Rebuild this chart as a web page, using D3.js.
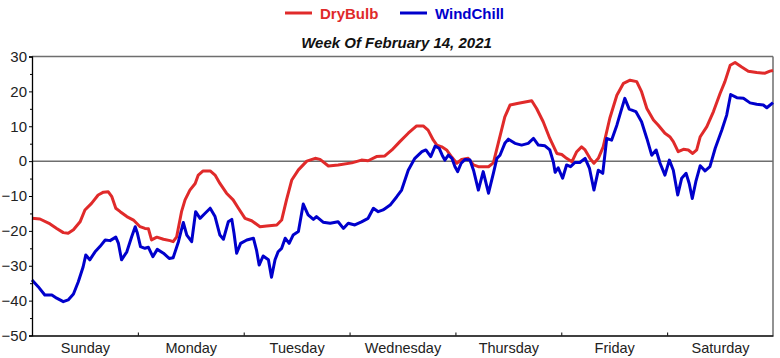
<!DOCTYPE html>
<html>
<head>
<meta charset="utf-8">
<script src="https://cdn.jsdelivr.net/npm/d3@7"></script>
<style>
  body { margin: 0; background: #fff; }
  svg { display: block; font-family: "Liberation Sans", Arial, sans-serif; }
</style>
</head>
<body>
<svg id="chart" width="780" height="358"></svg>
<script>
/**
 * Data: hours since Sunday 00:00.
 */
const days = ['Sunday', 'Monday', 'Tuesday', 'Wednesday', 'Thursday', 'Friday', 'Saturday'];
const yTicks = [-50, -40, -30, -20, -10, 0, 10, 20, 30];
const seriesNames = ['DryBulb', 'WindChill'];

const dryHours = [0, 1.8, 4.1, 5.6, 7.1, 8.2, 9.4, 10.9, 12.0, 13.5, 15.0, 16.2, 17.3, 18.1, 19.0, 20.0,
    21.5, 23.0, 24.5, 25.6, 26.4, 27.1, 28.3, 29.8, 31.3, 32.0, 32.8, 33.9, 34.7, 35.8, 37.0, 37.7,
    38.8, 40.4, 41.5, 42.6, 44.1, 45.6, 46.8, 48.3, 49.8, 51.7, 53.2, 55.5, 56.6, 57.7, 58.9, 60.4,
    62.3, 64.2, 65.3, 67.2, 69.4, 72.5, 74.7, 76.2, 78.1, 80.0, 81.6, 83.4, 85.3, 87.2, 88.7, 89.8,
    91.0, 91.8, 92.9, 94.0, 95.2, 96.3, 97.4, 98.9, 100.1, 101.2, 103.5, 104.6, 105.7, 107.2, 108.4,
    110.3, 113.3, 114.4, 115.9, 117.4, 119.0, 120.1, 121.2, 122.4, 123.5, 124.6, 125.4, 126.5, 127.4,
    128.4, 129.5, 131.0, 132.6, 134.1, 135.6, 137.1, 138.2, 139.4, 140.9, 142.0, 143.5, 144.6, 145.4,
    146.5, 147.7, 148.8, 149.8, 150.7, 151.5, 153.0, 154.5, 156.0, 157.1, 158.3, 159.4, 160.9, 162.4,
    164.3, 166.2, 167.3, 168];
const dryBulb = [-16.4, -16.6, -18.0, -19.3, -20.5, -20.7, -19.7, -17.4, -14.0, -12.1, -9.7, -8.9, -8.8, -10.2, -13.5, -14.5,
    -15.9, -16.9, -18.8, -19.3, -19.4, -22.6, -21.8, -22.4, -22.8, -23.1, -21.7, -14.5, -11.1, -8.3, -6.4, -4.0,
    -2.8, -2.8, -4.0, -6.4, -9.2, -11.1, -13.5, -16.4, -17.1, -18.8, -18.6, -18.3, -16.9, -11.1, -5.4, -2.5,
    0, 0.8, 0.5, -1.4, -1.1, -0.5, 0.3, 0.1, 1.3, 1.5, 3.2, 5.6, 8.0, 10.1, 10.1, 8.9,
    6.0, 4.6, 4.1, 3.2, 1.1, -0.6, 0.5, 0.8, -1.1, -1.6, -1.6, -0.5, 5.1, 12.7, 16.1,
    16.6, 17.3, 15.1, 11.3, 6.5, 2.2, 1.9, 0.8, -0.2, 2.7, 4.1, 3.2, 0.8, -0.6,
    0.8, 4.1, 12.3, 18.9, 22.3, 23.2, 22.8, 19.9, 15.1, 11.8, 10.3, 8.0, 7.0, 5.6,
    2.7, 3.4, 3.2, 2.2, 3.2, 7.0, 9.9, 14.2, 19.4, 22.8, 27.5, 28.3, 27.0, 25.8,
    25.4, 25.2, 25.8, 26.0];

const chillHours = [0, 1.4, 2.9, 4.5, 5.6, 7.1, 8.2, 9.4, 10.5, 11.6, 12.2, 13.1, 14.3, 15.4, 16.6, 17.7,
    19.0, 19.6, 20.3, 21.5, 22.6, 23.4, 23.9, 24.6, 25.6, 26.4, 27.4, 28.4, 29.8, 31.1, 32.0, 33.2,
    34.3, 35.1, 36.2, 37.1, 38.1, 39.2, 40.4, 41.5, 42.6, 43.4, 44.5, 45.3, 45.8, 46.4, 47.3, 48.7,
    50.2, 50.9, 51.5, 52.4, 53.6, 54.3, 55.1, 55.8, 56.6, 57.4, 58.3, 59.2, 60.4, 61.5, 62.6, 63.8,
    64.5, 66.0, 67.6, 69.4, 70.6, 71.7, 73.2, 74.7, 76.2, 77.4, 78.5, 79.6, 81.2, 82.7, 83.8, 85.3,
    86.8, 88.4, 89.3, 90.4, 91.4, 92.3, 93.0, 93.6, 94.4, 95.2, 95.9, 96.5, 97.3, 98.2, 99.3, 100.1,
    101.2, 102.3, 103.5, 104.6, 105.4, 106.1, 107.2, 108.0, 109.5, 111.0, 112.5, 113.7, 114.8, 116.3,
    117.4, 118.2, 118.6, 119.3, 120.3, 121.2, 122.1, 123.1, 124.2, 125.4, 126.4, 127.4, 128.4, 129.4,
    130.3, 131.4, 132.6, 133.5, 134.4, 135.4, 136.9, 138.2, 139.4, 140.5, 141.5, 142.4, 143.5, 144.5,
    145.4, 146.4, 147.3, 148.3, 149.0, 149.7, 150.5, 151.5, 152.6, 153.7, 154.9, 156.4, 157.5, 158.4,
    159.8, 161.3, 162.8, 164.3, 165.8, 166.6, 168];
const windChill = [-34.1, -36.0, -38.4, -38.4, -39.3, -40.3, -39.8, -38.1, -34.6, -30.3, -26.9, -28.3, -26.0, -24.5, -22.6, -22.8,
    -21.8, -23.6, -28.3, -26.0, -21.7, -18.8, -20.7, -24.5, -25.0, -24.7, -27.4, -25.3, -26.4, -27.9, -27.7, -23.1,
    -17.6, -21.2, -23.1, -14.5, -16.4, -15.0, -13.5, -15.9, -21.2, -22.4, -17.4, -16.7, -20.7, -26.4, -23.6, -22.6,
    -22.1, -25.5, -29.8, -27.2, -28.3, -33.3, -28.3, -26.0, -25.0, -22.1, -23.6, -21.2, -20.2, -12.3, -15.4, -16.7,
    -15.9, -17.5, -17.8, -17.4, -19.3, -17.8, -18.3, -17.4, -16.4, -13.5, -14.5, -14.0, -12.6, -10.2, -8.3, -2.6,
    0.8, 2.7, 3.2, 1.3, 4.3, 3.7, 1.7, 0.3, 1.7, 0.8, -1.6, -3.0, -0.6, 0.5, 0.3, -2.6,
    -8.3, -3.0, -9.2, -3.5, 0.8, 1.7, 5.1, 6.3, 5.1, 4.6, 5.1, 6.5, 4.6, 4.4,
    3.2, -0.2, -3.2, -1.9, -4.9, -1.1, -1.6, -0.4, -0.4, 0.8, -2.1, -8.3, -2.6, -3.5,
    6.5, 6.0, 10.3, 14.2, 18.0, 14.9, 14.2, 11.3, 6.5, 1.7, 3.2, -0.6, -4.0, 0.3,
    -2.6, -9.7, -4.9, -3.5, -6.4, -10.7, -5.9, -1.3, -2.8, -1.6, 3.7, 8.9, 13.2, 19.1,
    18.2, 18.0, 16.7, 16.3, 16.1, 15.3, 16.8];

/**
 * Visual configs.
 */
const margin = { top: 56.5, right: 7, bottom: 22.5, left: 32 };
const visWidth = 780, visHeight = 358,
    width = visWidth - margin.left - margin.right,
    height = visHeight - margin.top - margin.bottom;
const colors = { DryBulb: '#e02a2a', WindChill: '#0000cc' };
const visTitle = 'Week Of February 14, 2021';

const svg = d3.select('#chart');

const x = d3.scaleLinear().domain([0, 168]).range([0, width]);
const y = d3.scaleLinear().domain([-50, 30]).range([height, 0]);

// Legend
const legend = svg.append('g').attr('class', 'legend');
const legendX = [285, 400];
seriesNames.forEach((name, i) => {
    const g = legend.append('g').attr('transform', 'translate(' + legendX[i] + ',13)');
    g.append('line').attr('x1', 0).attr('x2', 27).attr('y1', 0).attr('y2', 0)
        .attr('stroke', colors[name]).attr('stroke-width', 3);
    g.append('text').attr('x', 35).attr('y', 5.5)
        .attr('font-size', 15).attr('font-weight', 'bold')
        .attr('fill', colors[name]).text(name);
});

// Title
svg.append('text')
    .attr('x', margin.left + width / 2 - 6).attr('y', 48)
    .attr('text-anchor', 'middle')
    .attr('font-size', 15).attr('font-weight', 'bold').attr('font-style', 'italic')
    .attr('fill', '#111')
    .text(visTitle);

const plot = svg.append('g').attr('transform', 'translate(' + margin.left + ',' + margin.top + ')');

// Frame: grey top/right, black left/bottom
plot.append('line').attr('x1', 0).attr('x2', width).attr('y1', 0).attr('y2', 0)
    .attr('stroke', '#6e6e6e').attr('stroke-width', 1.5);
plot.append('line').attr('x1', width).attr('x2', width).attr('y1', 0).attr('y2', height)
    .attr('stroke', '#6e6e6e').attr('stroke-width', 1.5);
plot.append('line').attr('x1', 0).attr('x2', width).attr('y1', y(0)).attr('y2', y(0))
    .attr('stroke', '#6e6e6e').attr('stroke-width', 1.5);

// Lines
const line = d3.line().x(d => x(d[0])).y(d => y(d[1]));
const series = [
    { name: 'DryBulb', values: dryHours.map((h, i) => [h, dryBulb[i]]) },
    { name: 'WindChill', values: chillHours.map((h, i) => [h, windChill[i]]) }
];
plot.selectAll('path.series').data(series).join('path')
    .attr('class', 'series')
    .attr('d', d => line(d.values))
    .attr('fill', 'none')
    .attr('stroke', d => colors[d.name])
    .attr('stroke-width', 3)
    .attr('stroke-linejoin', 'round');

// Y axis
const yAxis = plot.append('g')
    .call(d3.axisLeft(y).tickValues(yTicks).tickSize(3).tickPadding(2));
yAxis.selectAll('text').attr('font-size', 15).attr('fill', '#222').attr('font-family', null);
plot.append('g')
    .call(d3.axisLeft(y).tickValues(d3.range(-45, 30, 10)).tickSize(2).tickFormat(''))
    .select('.domain').remove();

// X axis
const xAxis = plot.append('g').attr('transform', 'translate(0,' + height + ')')
    .call(d3.axisBottom(x).tickValues(d3.range(24, 168, 24)).tickSizeInner(-3).tickSizeOuter(0).tickFormat(''));
plot.append('g').attr('transform', 'translate(0,' + height + ')')
    .call(d3.axisBottom(x).tickValues(days.map((d, i) => 12 + 24 * i)).tickSize(0).tickPadding(7)
        .tickFormat((d, i) => days[i]))
    .call(g => g.select('.domain').remove())
    .selectAll('text').attr('font-size', 14.5).attr('fill', '#222').attr('font-family', null);

svg.selectAll('.domain').attr('stroke', '#000').attr('stroke-width', 1.3);
</script>
</body>
</html>
